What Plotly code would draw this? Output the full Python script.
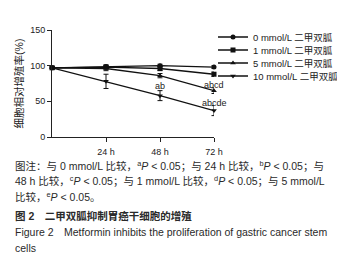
import plotly.graph_objects as go

hours = [0, 24, 48, 72]
series_names = ["0 mmol/L 二甲双胍", "1 mmol/L 二甲双胍", "5 mmol/L 二甲双胍", "10 mmol/L 二甲双胍"]
vals_0 = [97, 99, 100, 98]
vals_1 = [97, 98, 96, 88]
vals_5 = [97, 96, 86, 65]
vals_10 = [97, 78, 58, 37]
err_0 = [2, 2, 2, 2]
err_1 = [2, 2, 3, 3]
err_5 = [2, 3, 3, 4]
err_10 = [2, 10, 7, 7]
symbols = ["circle", "square", "triangle-up", "triangle-down"]
tick_labels = ["24 h", "48 h", "72 h"]
sig_labels = [(48, 71, "ab"), (72, 73, "abcd"), (72, 47, "abcde")]

FONT = "Liberation Sans, Arial, Noto Sans CJK SC, sans-serif"
W, H = 345, 258
L, R, T, B = 44, 206, 22, 129

def py(p):
    return (B - p) / (B - T)

def px(p):
    return (p - L) / (R - L)

legend_names = ["legend", "legend2", "legend3", "legend4"]
legend_y = [29, 42, 55, 68]

fig = go.Figure()
for name, v, e, s, lg in zip(series_names, [vals_0, vals_1, vals_5, vals_10],
                             [err_0, err_1, err_5, err_10], symbols, legend_names):
    fig.add_trace(go.Scatter(
        x=hours, y=v, name=name, mode="lines+markers",
        line=dict(color="#111", width=1.3),
        marker=dict(symbol=s, size=5, color="#111"),
        error_y=dict(type="data", array=e, color="#111", thickness=1, width=2.5),
        cliponaxis=False, legend=lg,
    ))

for x, y, t in sig_labels:
    fig.add_annotation(x=x, y=y, text=t, showarrow=False, xref="x", yref="y",
                       font=dict(size=9, color="#222"))

caption = [
    (157, "图注：与 0 mmol/L 比较，<sup>a</sup><i>P</i> < 0.05；与 24 h 比较，<sup>b</sup><i>P</i> < 0.05；与"),
    (172, "48 h 比较，<sup>c</sup><i>P</i> < 0.05；与 1 mmol/L 比较，<sup>d</sup><i>P</i> < 0.05；与 5 mmol/L"),
    (188, "比较，<sup>e</sup><i>P</i> < 0.05。"),
    (208, "<b>图 2　二甲双胍抑制胃癌干细胞的增殖</b>"),
    (224, "Figure 2　Metformin inhibits the proliferation of gastric cancer stem"),
    (240, "cells"),
]
for yy, t in caption:
    fig.add_annotation(x=px(5), y=py(yy), xref="paper", yref="paper",
                       xanchor="left", yanchor="middle", text=t, showarrow=False,
                       font=dict(size=10.5, color="#2a2a2a", family=FONT), align="left")

legend_common = dict(xanchor="left", yanchor="middle", font=dict(size=9.5),
                     itemwidth=30, bgcolor="rgba(0,0,0,0)", borderwidth=0)

layout_legends = {}
for lg, yy in zip(legend_names, legend_y):
    layout_legends[lg] = dict(x=px(205), y=py(yy), **legend_common)

fig.update_layout(
    width=W, height=H,
    margin=dict(l=L, r=W - R, t=T, b=H - B, pad=0, autoexpand=False),
    paper_bgcolor="white", plot_bgcolor="white",
    font=dict(family=FONT, size=9, color="#222"),
    showlegend=True,
    xaxis=dict(range=[0, 72], tickvals=[24, 48, 72], ticktext=tick_labels,
               showline=True, linecolor="#222", linewidth=1, ticks="outside",
               ticklen=4, tickcolor="#222", showgrid=False, zeroline=False,
               tickfont=dict(size=9), ticklabelstandoff=2),
    yaxis=dict(range=[0, 150], tickvals=[0, 50, 100, 150], showline=True,
               linecolor="#222", linewidth=1, ticks="outside", ticklen=4,
               tickcolor="#222", showgrid=False, zeroline=False,
               tickfont=dict(size=9),
               title=dict(text="细胞相对增殖率(%)", font=dict(size=10.5), standoff=4)),
    **layout_legends,
)

fig.write_html("out.html")
